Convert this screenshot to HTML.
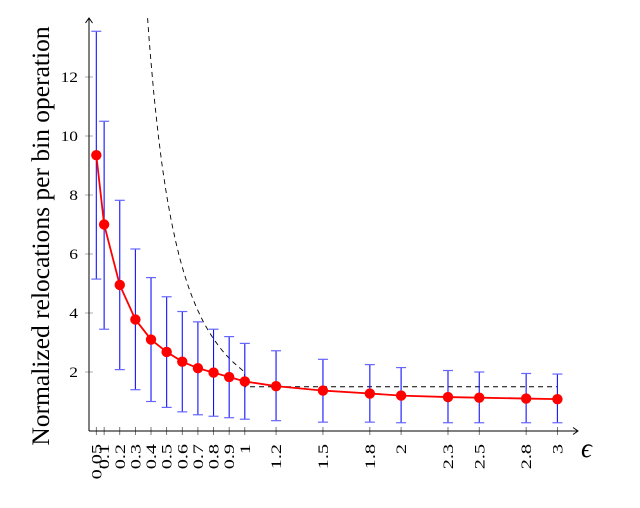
<!DOCTYPE html>
<html><head><meta charset="utf-8"><style>
html,body{margin:0;padding:0;background:#fff;width:640px;height:508px;overflow:hidden}
text{font-family:"Liberation Serif","DejaVu Serif",serif}
</style></head><body>
<svg id="s" width="640" height="508" xmlns="http://www.w3.org/2000/svg"></svg>
<script>
var s=document.getElementById('s');
function X(v){return 88.5+156.3*v}
function Y(v){return 431-29.5*v}
var h='';
var xs=[0.05,0.1,0.2,0.3,0.4,0.5,0.6,0.7,0.8,0.9,1,1.2,1.5,1.8,2,2.3,2.5,2.8,3];
var ys=[9.35,7.0,4.95,3.78,3.1,2.68,2.35,2.13,1.98,1.83,1.68,1.52,1.37,1.27,1.2,1.15,1.13,1.1,1.08];
var hi=[13.55,10.5,7.82,6.17,5.2,4.55,4.05,3.7,3.45,3.2,2.97,2.72,2.43,2.25,2.15,2.05,2.0,1.95,1.93];
var lo=[5.15,3.45,2.08,1.4,1.0,0.8,0.65,0.55,0.5,0.45,0.4,0.35,0.3,0.3,0.28,0.28,0.28,0.28,0.28];
[2,4,6,8,10,12].forEach(function(v){
 h+='<text transform="translate(78,'+(Y(v)+5)+') scale(1.2,1)" font-size="14.5" text-anchor="end">'+v+'</text>';
 h+='<line x1="85" x2="93" y1="'+Y(v)+'" y2="'+Y(v)+'" stroke="#999" stroke-width="0.8"/>';
});
xs.forEach(function(v){
 h+='<line x1="'+X(v)+'" x2="'+X(v)+'" y1="427" y2="435" stroke="#555" stroke-width="0.8"/>';
 h+='<text transform="translate('+(X(v)+5)+',444) rotate(-90) scale(1.35,1)" font-size="15" text-anchor="end">'+v+'</text>';
});
var p='M';
for(var e=0.378;e<=1.0001;e+=0.01){p+=X(e).toFixed(1)+','+Y(2/(e*e)).toFixed(1)+' L';}
p+=X(1)+','+Y(1.5)+' L'+X(3)+','+Y(1.5);
h+='<path d="'+p+'" fill="none" stroke="#000" stroke-width="0.9" stroke-dasharray="5,4"/>';
xs.forEach(function(v,i){
 var x=X(v);
 h+='<line x1="'+x+'" x2="'+x+'" y1="'+Y(hi[i])+'" y2="'+Y(lo[i])+'" stroke="#11f" stroke-width="1.1"/>';
 [hi[i],lo[i]].forEach(function(t){h+='<line x1="'+(x-5)+'" x2="'+(x+5)+'" y1="'+Y(t)+'" y2="'+Y(t)+'" stroke="#66f" stroke-width="1.2"/>';});
});
var q='';xs.forEach(function(v,i){q+=(i?' L':'M')+X(v)+','+Y(ys[i]);});
h+='<path d="'+q+'" fill="none" stroke="#f00" stroke-width="1.8"/>';
xs.forEach(function(v,i){h+='<circle cx="'+X(v)+'" cy="'+Y(ys[i])+'" r="5.2" fill="#f00"/>';});
h+='<line x1="89" y1="431" x2="89" y2="19" stroke="#000" stroke-width="1"/>';
h+='<path d="M85.5,23 L89,18 L92.5,23" fill="none" stroke="#000" stroke-width="1"/>';
h+='<line x1="89" y1="431" x2="577" y2="431" stroke="#000" stroke-width="1"/>';
h+='<path d="M573,427.5 L578,431 L573,434.5" fill="none" stroke="#000" stroke-width="1"/>';
h+='<text x="581" y="457" font-size="27" font-style="italic">ϵ</text>';
h+='<text transform="translate(49,236) rotate(-90)" font-size="25.5" text-anchor="middle">Normalized relocations per bin operation</text>';
s.innerHTML=h;
</script>
</body></html>
